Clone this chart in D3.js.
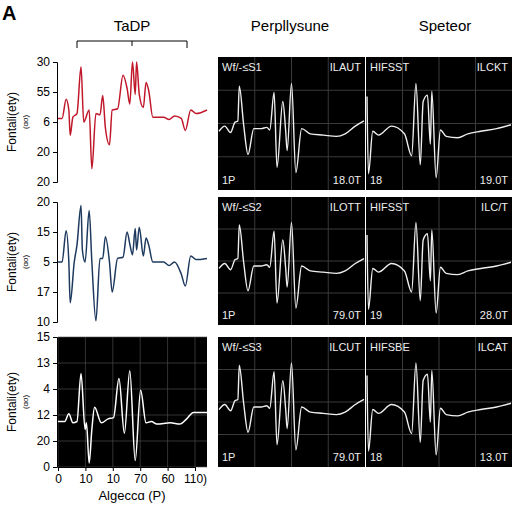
<!DOCTYPE html><html><head><meta charset="utf-8"><script src="https://cdn.jsdelivr.net/npm/d3@7"></script>
<style>body{margin:0;background:#fff}svg{display:block;font-family:"Liberation Sans",Arial,sans-serif}</style></head><body><svg width="512" height="512"></svg><script>
const redX=[0,3,6,8,9,11,14,17,19,23,25,28,31,33,35,38,40,44,48,51,53,55,57,58,60,63,65,67,70,78,82,86,91,94,98,102,110];
const redY=[53,53,69,60,39,54,57,96,50,60,11,57,56,72,45,31,60,61,89,78,65,100,73,100,73,62,83,76,54,54,52,55,53,43,60,57,60];
const blueX=[0,3,6,8,9,12,14,17,18,20,23,25,28,31,33,35,38,40,44,48,51,53,55,57,58,60,63,65,67,70,78,82,86,91,94,98,102,110];
const blueY=[50,50,76,50,16,50,64,97,60,50,93,50,1,53,53,71,50,25,53,54,75,65,56,78,60,79,55,70,64,50,50,47,50,40,30,55,52,53];
const whiteX=[0,5,8,11,14,17,20,21,23,25,27,32,37,41,45,49,53,57,61,65,69,73,83,90,95,100,110];
const whiteY=[35,35,41,34,35,72,29,34,3,29,46,34,37,38,68,26,74,5,59,34,35,33,34,33,37,42,42];
const ecgAX=[0,4,8,11,13,14,17,20,24,29,33,35,38,40,44,46,47,50,53,57,63,72,81,87,94,100];
const ecgAY=[44,48,43,51,52,79,49,26,46,46,47,45,74,16,67,44,29,81,12,46,42,41,40,42,48,52];
const ecgBX=[0,1,4,8,17,26,31,34,37,39,42,44,45,48,51,55,63,70,79,90,100];
const ecgBY=[71,11,44,41,48,42,25,81,18,67,72,34,75,8,45,40,39,42,44,46,49];
const leftTicks=[["30","55","6","20","20"],["20","15","5","17","10"],["15","13","4","12","20","0"]];
const xTicks=["0","10","10","70","60","110)"];
const colTitles=["TaDP","Perpllysune","Speteor"];
const panelLabels=[["Wf/-≤S1","ILAUT","1P","18.0T","HIFSST","ILCKT","18","19.0T"],
["Wf/-≤S2","ILOTT","1P","79.0T","HIFSST","ILC/T","19","28.0T"],
["Wf/-≤S3","ILCUT","1P","79.0T","HIFSBE","ILCAT","18","13.0T"]];

const svg=d3.select("svg");
svg.append("text").attr("x",2).attr("y",20).attr("font-size",20).attr("font-weight","bold").text("A");
svg.append("text").attr("x",132).attr("y",31).attr("text-anchor","middle").attr("font-size",15).text(colTitles[0]);
svg.append("text").attr("x",290).attr("y",31).attr("text-anchor","middle").attr("font-size",15).text(colTitles[1]);
svg.append("text").attr("x",445).attr("y",31).attr("text-anchor","middle").attr("font-size",15).text(colTitles[2]);
svg.append("path").attr("d","M77,48V41H187V48M132,41V46").attr("fill","none").attr("stroke","#000");

const lx=d3.scaleLinear().domain([0,110]).range([58,207]);
const lefts=[{top:62,bot:182,X:redX,Y:redY,c:"#c0182a",dark:false},{top:202,bot:322,X:blueX,Y:blueY,c:"#1d3a5e",dark:false},{top:337,bot:467,X:whiteX,Y:whiteY,c:"#fff",dark:true}];
lefts.forEach((p,i)=>{
  const g=svg.append("g");
  const ys=d3.scaleLinear().domain([0,100]).range([p.bot,p.top]);
  const tk=d3.scalePoint().domain(leftTicks[i].map((t,j)=>j)).range([p.top,p.bot]);
  if(p.dark){
    g.append("rect").attr("x",58).attr("y",p.top).attr("width",149).attr("height",p.bot-p.top).attr("fill","#000");
    const gx=d3.scalePoint().domain(xTicks.map((t,j)=>j)).range([58,195]);
    xTicks.forEach((t,j)=>g.append("line").attr("x1",gx(j)).attr("x2",gx(j)).attr("y1",p.top).attr("y2",p.bot).attr("stroke","#555").attr("stroke-width",0.6));
    leftTicks[i].forEach((t,j)=>g.append("line").attr("x1",58).attr("x2",207).attr("y1",tk(j)).attr("y2",tk(j)).attr("stroke","#555").attr("stroke-width",0.6));
    const ax=g.append("g").attr("transform",`translate(0,${p.bot})`).call(d3.axisBottom(gx).tickFormat(j=>xTicks[j]).tickSize(4));
    ax.selectAll("text").attr("font-size",12).attr("fill","#000");
  }
  const ay=g.append("g").attr("transform","translate(57,0)").call(d3.axisLeft(tk).tickFormat(j=>leftTicks[i][j]).tickSize(4));
  ay.selectAll("text").attr("font-size",12).attr("fill","#000");
  ay.select(".domain").attr("stroke","#000");
  const line=d3.line().x((d,k)=>lx(p.X[k])).y(d=>ys(d)).curve(d3.curveMonotoneX);
  g.append("path").attr("d",line(p.Y)).attr("fill","none").attr("stroke",p.c).attr("stroke-width",1.5);
  const cy=(p.top+p.bot)/2;
  g.append("text").attr("transform",`translate(16,${cy}) rotate(-90)`).attr("text-anchor","middle").attr("font-size",12).text("Fontali(ety)");
  g.append("text").attr("transform",`translate(28,${cy}) rotate(-90)`).attr("text-anchor","middle").attr("font-size",8).text("(ɑo)");
});
svg.append("text").attr("x",132).attr("y",500).attr("text-anchor","middle").attr("font-size",13).text("Algeccɑ (P)");

const rows=[[57,190],[197,325],[337,467]];
const halves=[[218,365],[366,512]];
rows.forEach((r,i)=>{
  halves.forEach((h,hi)=>{
    const g=svg.append("g");
    g.append("rect").attr("x",h[0]).attr("y",r[0]).attr("width",h[1]-h[0]).attr("height",r[1]-r[0]).attr("fill","#000");
    const gx=d3.scaleLinear().domain([0,4]).range(h);
    const gy=d3.scaleLinear().domain([0,4]).range(r);
    [1,2,3].forEach(k=>{
      g.append("line").attr("x1",gx(k)).attr("x2",gx(k)).attr("y1",r[0]).attr("y2",r[1]).attr("stroke","#3a3a3a");
      g.append("line").attr("y1",gy(k)).attr("y2",gy(k)).attr("x1",h[0]).attr("x2",h[1]).attr("stroke","#3a3a3a");
    });
    const X=hi?ecgBX:ecgAX, Y=hi?ecgBY:ecgAY;
    const xs=d3.scaleLinear().domain([0,100]).range([h[0]+1,h[1]-1]);
    const ys=d3.scaleLinear().domain([0,100]).range([r[1]-2,r[0]+2]);
    const line=d3.line().x((d,k)=>xs(X[k])).y(d=>ys(d)).curve(d3.curveMonotoneX);
    g.append("path").attr("d",line(Y)).attr("fill","none").attr("stroke","#eee").attr("stroke-width",1.4);
    const L=panelLabels[i].slice(hi*4,hi*4+4);
    const t=(x,y,s,a)=>g.append("text").attr("x",x).attr("y",y).attr("fill","#eee").attr("font-size",11).attr("text-anchor",a).text(s);
    t(h[0]+4,r[0]+14,L[0],"start");t(h[1]-4,r[0]+14,L[1],"end");
    t(h[0]+4,r[1]-6,L[2],"start");t(h[1]-4,r[1]-6,L[3],"end");
  });
});
</script></body></html>
